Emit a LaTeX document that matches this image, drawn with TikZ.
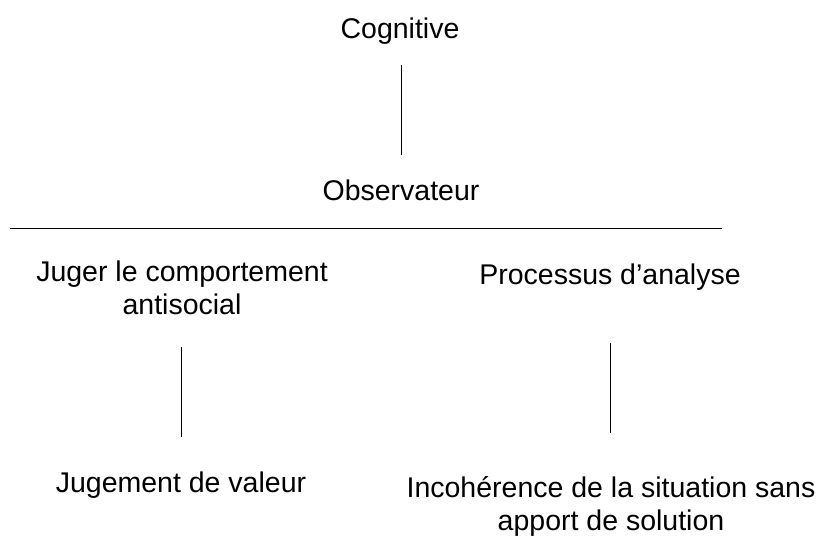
\documentclass[tikz,border=0pt]{standalone}
\usepackage{fontspec}
\setmainfont{Liberation Sans}
\begin{document}
\begin{tikzpicture}[x=1pt,y=-1pt,
  lbl/.style={inner sep=0pt,anchor=base,align=center,font=\fontsize{28.5}{33}\selectfont},
  link/.style={line width=1pt,black}]
\useasboundingbox (0,0) rectangle (828,537);
\node[lbl] (cog) at (400,39) {Cognitive};
\node[lbl] (obs) at (401,201) {Observateur};
\node[lbl] (jug) at (182,315) {Juger le comportement\\antisocial};
\node[lbl] (proc) at (610,285) {Processus d’analyse};
\node[lbl] (val) at (181,493) {Jugement de valeur};
\node[lbl] (inc) at (611,530) {Incohérence de la situation sans\\apport de solution};
\coordinate (hl) at (10,229);
\coordinate (hr) at (722,229);
\coordinate (t1) at (401,65);
\coordinate (t2) at (401,155);
\coordinate (l1) at (181,347);
\coordinate (l2) at (181,437);
\coordinate (r1) at (610,343);
\coordinate (r2) at (610,433);
\draw[link] (hl) -- (hr);
\draw[link] (t1) -- (t2);
\draw[link] (l1) -- (l2);
\draw[link] (r1) -- (r2);
\end{tikzpicture}
\end{document}
